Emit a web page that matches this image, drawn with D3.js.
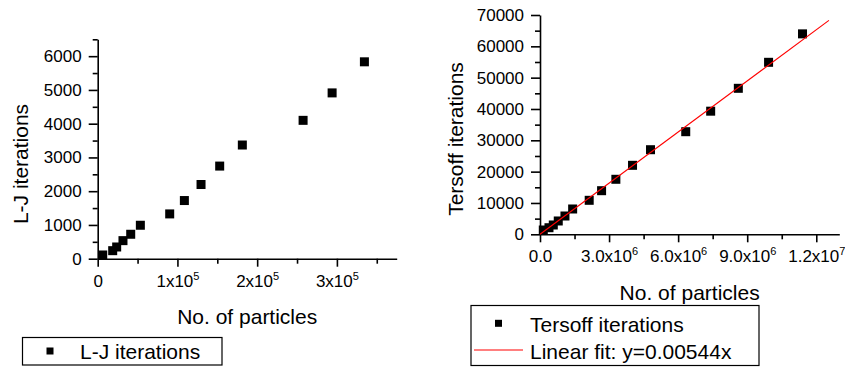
<!DOCTYPE html>
<html>
<head>
<meta charset="utf-8">
<script src="https://cdn.jsdelivr.net/npm/d3@7"></script>
<style>
  html, body { margin: 0; padding: 0; background: #fff; }
  svg { display: block; font-family: "Liberation Sans", Arial, sans-serif; }
</style>
</head>
<body>
<svg id="chart" width="845" height="367"></svg>
<script>
// Lennard-Jones runs: particle count vs iterations
const ljParticles  = [6300, 18800, 23800, 31700, 41400, 53500, 90300, 108700, 129600, 153000, 181400, 257600, 294000, 334500];
const ljIterations = [110, 238, 347, 535, 724, 991, 1327, 1723, 2198, 2744, 3368, 4099, 4912, 5833];

// Tersoff runs: particle count vs iterations
const tersoffParticles  = [143000, 390000, 577000, 793000, 1084000, 1418000, 2137000, 2675000, 3295000, 4019000, 4800000, 6330000, 7413000, 8614000, 9928000, 11402000];
const tersoffIterations = [1370, 2100, 2970, 4250, 5840, 8080, 10850, 13920, 17560, 22020, 27000, 32750, 39300, 46600, 54900, 63980];

// Linear fit through the origin
const fitSlope = 0.00544;
const fitRange = [0, 12550000];

// Axis ticks: [value, mantissa, exponent]
const ljXTicks = [[0, "0", null], [100000, "1x10", "5"], [200000, "2x10", "5"], [300000, "3x10", "5"]];
const ljYTicks = [0, 1000, 2000, 3000, 4000, 5000, 6000];
const tsXTicks = [[0, "0.0", null], [3000000, "3.0x10", "6"], [6000000, "6.0x10", "6"], [9000000, "9.0x10", "6"], [12000000, "1.2x10", "7"]];
const tsYTicks = [0, 10000, 20000, 30000, 40000, 50000, 60000, 70000];

const svg = d3.select("#chart");
const TICK_FONT = 17, TITLE_FONT = 21, MARK = 9;

function panel(cfg) {
  const g = svg.append("g");
  const x = d3.scaleLinear().domain(cfg.xDomain).range(cfg.xRange);
  const y = d3.scaleLinear().domain(cfg.yDomain).range(cfg.yRange);
  const y0 = cfg.yRange[0], x0 = cfg.xRange[0];

  // minor ticks
  g.append("g").attr("transform", `translate(0,${y0})`)
    .call(d3.axisBottom(x).tickValues(cfg.xMinor).tickSize(5).tickSizeOuter(0).tickFormat(""))
    .call(s => s.select(".domain").remove());
  g.append("g").attr("transform", `translate(${x0},0)`)
    .call(d3.axisLeft(y).tickValues(cfg.yMinor).tickSize(5).tickSizeOuter(0).tickFormat(""))
    .call(s => s.select(".domain").remove());

  // major x axis with superscript labels
  const xa = g.append("g").attr("transform", `translate(0,${y0})`)
    .call(d3.axisBottom(x).tickValues(cfg.xTicks.map(d => d[0])).tickSize(8).tickSizeOuter(0).tickFormat(""));
  xa.selectAll(".tick").each(function (v, i) {
    const t = cfg.xTicks[i];
    const txt = d3.select(this).append("text")
      .attr("y", 28).attr("fill", "#000").attr("font-size", TICK_FONT)
      .attr("text-anchor", "middle").style("dominant-baseline", "auto");
    txt.append("tspan").text(t[1]);
    if (t[2]) txt.append("tspan").attr("dy", -7).attr("font-size", 11).text(t[2]);
  });

  // major y axis
  const ya = g.append("g").attr("transform", `translate(${x0},0)`)
    .call(d3.axisLeft(y).tickValues(cfg.yTicks).tickSize(9).tickSizeOuter(0).tickFormat(d3.format("d")));
  ya.selectAll(".tick text").attr("x", -16).attr("font-size", TICK_FONT).attr("fill", "#000");
  xa.attr("font-family", null); ya.attr("font-family", null);

  g.selectAll(".domain, .tick line").attr("stroke", "#000").attr("stroke-width", 1.6);

  // axis titles
  g.append("text").attr("x", (cfg.xRange[0] + cfg.xRange[1]) / 2).attr("y", cfg.xTitleY)
    .attr("text-anchor", "middle").attr("font-size", TITLE_FONT).text("No. of particles");
  g.append("text")
    .attr("transform", `translate(${cfg.yTitleX},${cfg.yTitleCy}) rotate(-90)`)
    .attr("text-anchor", "middle").attr("font-size", TITLE_FONT).text(cfg.yTitle);

  return { g, x, y };
}

// ---- L-J panel ----
const lj = panel({
  xDomain: [0, 375000], xRange: [97.7, 396.7],
  yDomain: [0, 6500], yRange: [258.7, 39.3],
  xTicks: ljXTicks, xMinor: [50000, 150000, 250000, 350000],
  yTicks: ljYTicks, yMinor: d3.range(500, 6501, 1000),
  xTitleY: 324, yTitleX: 28, yTitleCy: 164, yTitle: "L-J iterations"
});
lj.g.append("g").selectAll("rect").data(ljParticles).join("rect")
  .attr("x", (d) => lj.x(d) - MARK / 2)
  .attr("y", (d, i) => lj.y(ljIterations[i]) - MARK / 2)
  .attr("width", MARK).attr("height", MARK).attr("fill", "#000");

// ---- Tersoff panel ----
const ts = panel({
  xDomain: [0, 13000000], xRange: [540, 839.3],
  yDomain: [0, 70000], yRange: [234.3, 15],
  xTicks: tsXTicks, xMinor: [1500000, 4500000, 7500000, 10500000],
  yTicks: tsYTicks, yMinor: d3.range(5000, 65001, 10000),
  xTitleY: 300, yTitleX: 463, yTitleCy: 139, yTitle: "Tersoff iterations"
});
ts.g.append("g").selectAll("rect").data(tersoffParticles).join("rect")
  .attr("x", (d) => ts.x(d) - MARK / 2)
  .attr("y", (d, i) => ts.y(tersoffIterations[i]) - MARK / 2)
  .attr("width", MARK).attr("height", MARK).attr("fill", "#000");
ts.g.append("line")
  .attr("x1", ts.x(fitRange[0])).attr("y1", ts.y(fitRange[0] * fitSlope))
  .attr("x2", ts.x(fitRange[1])).attr("y2", ts.y(fitRange[1] * fitSlope))
  .attr("stroke", "#ff0000").attr("stroke-width", 1.1);

// ---- legends ----
const leg1 = svg.append("g");
leg1.append("rect").attr("x", 22.5).attr("y", 337.5).attr("width", 199.5).attr("height", 27.5)
  .attr("fill", "none").attr("stroke", "#000").attr("stroke-width", 1.2);
leg1.append("rect").attr("x", 50 - 3.5).attr("y", 351 - 3.5).attr("width", 7).attr("height", 7).attr("fill", "#000");
leg1.append("text").attr("x", 80).attr("y", 359).attr("font-size", TITLE_FONT).text("L-J iterations");

const leg2 = svg.append("g");
leg2.append("rect").attr("x", 471).attr("y", 305.5).attr("width", 288).attr("height", 60)
  .attr("fill", "none").attr("stroke", "#000").attr("stroke-width", 1.2);
leg2.append("rect").attr("x", 498.5 - 3.5).attr("y", 323.3 - 3.5).attr("width", 7).attr("height", 7).attr("fill", "#000");
leg2.append("text").attr("x", 530).attr("y", 331.5).attr("font-size", TITLE_FONT).text("Tersoff iterations");
leg2.append("line").attr("x1", 474).attr("x2", 523).attr("y1", 350).attr("y2", 350)
  .attr("stroke", "#ff0000").attr("stroke-width", 1.1);
leg2.append("text").attr("x", 530).attr("y", 358.5).attr("font-size", TITLE_FONT).text("Linear fit: y=0.00544x");
</script>
</body>
</html>
